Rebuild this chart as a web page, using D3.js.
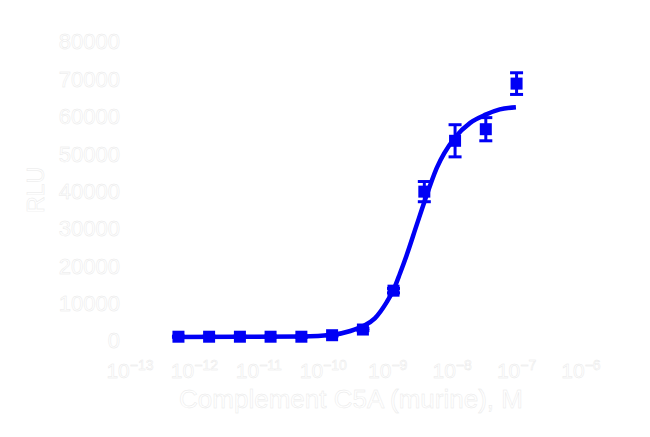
<!DOCTYPE html>
<html>
<head>
<meta charset="utf-8">
<script src="https://cdn.jsdelivr.net/npm/d3@7"></script>
<style>
  body { margin: 0; background: #fff; }
  text { font-family: "Liberation Sans", Arial, sans-serif; fill: #fff; stroke: #e8e8e8; stroke-width: 0.45px; }
</style>
</head>
<body>
<div class="chartContainer"></div>
<script>
var blue = '#0000f5'
let margin = {top: 41, right: 69, bottom: 97, left: 130},
width = 650
height = 437

// C5A concentration (M), 3-fold dilutions
var conc = [5.65e-13, 1.69e-12, 5.08e-12, 1.52e-11, 4.57e-11, 1.37e-10, 4.12e-10, 1.23e-9, 3.70e-9, 1.11e-8, 3.33e-8, 1.0e-7]
var rlu = [880, 880, 880, 880, 880, 1280, 2800, 13200, 39700, 53300, 56400, 68600]
var rluErr = [150, 150, 150, 150, 150, 200, 300, 600, 2700, 4300, 3100, 2900]

// fitted curve
var fitLogC = [-12.33, -10.33, -9.85, -9.58, -9.38, -9.20, -9.02, -8.91, -8.81, -8.71, -8.55, -8.43, -8.24, -7.96, -7.72, -7.48, -7.26, -7.01]
var fitRlu = [800, 940, 1420, 2410, 3750, 5800, 10000, 13400, 17800, 22500, 30800, 37000, 46000, 54100, 58100, 60300, 61700, 62300]

var xExp = [-13, -12, -11, -10, -9, -8, -7, -6]
var yTicks = [0, 10000, 20000, 30000, 40000, 50000, 60000, 70000, 80000]

let x = d3.scaleLinear()
    .domain([-13, -6])
    .range([margin.left, width - margin.right])

let y = d3.scaleLinear()
    .domain([0, 80000])
    .range([height - margin.bottom, margin.top])

var svg = d3.select('.chartContainer').append('svg')
    .attr('width', width)
    .attr('height', height)

// axes (white on white, like the original)
svg.append('g')
    .attr('transform', 'translate(0,' + (height - margin.bottom) + ')')
    .call(d3.axisBottom(x).tickValues(xExp).tickFormat(''))
    .call(g => g.selectAll('.domain, line').attr('stroke', '#fff'))

svg.append('g')
    .attr('transform', 'translate(' + margin.left + ',0)')
    .call(d3.axisLeft(y).tickValues(yTicks).tickFormat(d3.format('d')).tickSize(0).tickPadding(10))
    .call(g => g.select('.domain').attr('stroke', '#fff'))
    .call(g => g.selectAll('text')
        .attr('dy', '0.36em')
        .style('font-size', '22px'))

var xl = svg.append('g').selectAll('.xlab')
    .data(xExp)
    .enter()
    .append('text')
    .attr('class', 'xlab')
    .attr('x', d => x(d))
    .attr('y', 378)
    .attr('text-anchor', 'middle')
    .style('font-size', '21px')

xl.append('tspan').text('10')
xl.append('tspan')
    .attr('dy', -8)
    .style('font-size', '14px')
    .text(d => '\u2212' + Math.abs(d))

svg.append('text')
    .attr('x', 351)
    .attr('y', 408)
    .attr('text-anchor', 'middle')
    .style('font-size', '26px')
    .text('Complement C5A (murine), M')

svg.append('text')
    .attr('transform', 'translate(44,190) rotate(-90)')
    .attr('text-anchor', 'middle')
    .style('font-size', '23px')
    .text('RLU')

// fitted curve
var line = d3.line()
    .x(d => x(d[0]))
    .y(d => y(d[1]))
    .curve(d3.curveMonotoneX)

svg.append('path')
    .datum(d3.zip(fitLogC, fitRlu))
    .attr('d', line)
    .attr('fill', 'none')
    .attr('stroke', blue)
    .attr('stroke-width', 4.5)

var pts = conc.map((c, i) => ({lc: Math.log10(c), v: rlu[i], e: rluErr[i]}))

var errs = svg.append('g').selectAll('.err')
    .data(pts)
    .enter()
    .append('g')
    .attr('class', 'err')
    .attr('stroke', blue)
    .attr('stroke-width', 3)

errs.append('line')
    .attr('x1', d => x(d.lc)).attr('x2', d => x(d.lc))
    .attr('y1', d => y(d.v - d.e)).attr('y2', d => y(d.v + d.e))
errs.append('line')
    .attr('x1', d => x(d.lc) - 6.5).attr('x2', d => x(d.lc) + 6.5)
    .attr('y1', d => y(d.v + d.e)).attr('y2', d => y(d.v + d.e))
errs.append('line')
    .attr('x1', d => x(d.lc) - 6.5).attr('x2', d => x(d.lc) + 6.5)
    .attr('y1', d => y(d.v - d.e)).attr('y2', d => y(d.v - d.e))

svg.append('g').selectAll('.pt')
    .data(pts)
    .enter()
    .append('rect')
    .attr('class', 'pt')
    .attr('x', d => x(d.lc) - 6)
    .attr('y', d => y(d.v) - 6)
    .attr('width', 12)
    .attr('height', 12)
    .attr('fill', blue)
</script>
</body>
</html>
